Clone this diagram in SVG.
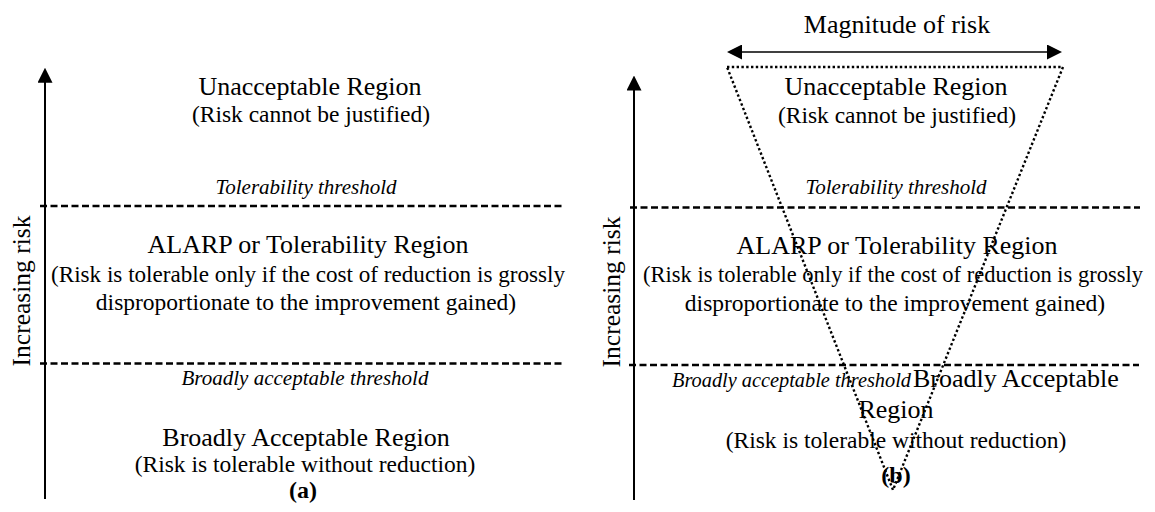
<svg xmlns="http://www.w3.org/2000/svg" width="1155" height="512" viewBox="0 0 1155 512">
<style>
text{font-family:"Liberation Serif","Times New Roman",serif;fill:#000}
.t{font-size:26px;text-anchor:middle}
.s{font-size:23.5px;text-anchor:middle}
.i{font-size:21px;font-style:italic;text-anchor:middle}
.lbl{font-size:24px;font-weight:bold;text-anchor:middle}
.ax{font-size:25.5px;text-anchor:middle}
.axis{stroke:#000;stroke-width:2;fill:none}
.mag{stroke:#000;stroke-width:1.6;fill:none}
.dash{stroke:#000;stroke-width:2.3;stroke-dasharray:7 3.5;fill:none}
.dot{stroke:#000;stroke-width:2.4;stroke-dasharray:2.4 2.4;fill:none}
</style>
<defs>
<marker id="ah" markerUnits="userSpaceOnUse" markerWidth="15" markerHeight="15" refX="10" refY="7.5" orient="auto-start-reverse"><path d="M0,0 L15,7.5 L0,15 z" fill="#000"/></marker>
</defs>
<rect width="1155" height="512" fill="#fff"/>
<g id="connectors">
<line class="axis" x1="45" y1="499" x2="45" y2="72.7" marker-end="url(#ah)"/>
<line class="axis" x1="634" y1="500" x2="634" y2="80.5" marker-end="url(#ah)"/>
<line class="dash" x1="40" y1="206" x2="563" y2="206"/>
<line class="dash" x1="40" y1="363.5" x2="562" y2="363.5"/>
<line class="dash" x1="630" y1="207.5" x2="1140" y2="207.5"/>
<line class="dash" x1="629" y1="365" x2="1139" y2="365"/>
<line class="mag" x1="732" y1="52" x2="1057" y2="52" marker-start="url(#ah)" marker-end="url(#ah)"/>
<polygon class="dot" points="727,67 1063,67 893,490"/>
</g>
<g id="panel-a">
<g id="a-unacceptable"><text class="t" x="310" y="95">Unacceptable Region</text><text class="s" x="311" y="122">(Risk cannot be justified)</text></g>
<g id="a-tolerability-threshold"><text class="i" x="306" y="194">Tolerability threshold</text></g>
<g id="a-alarp"><text class="t" x="308" y="253">ALARP or Tolerability Region</text><text class="s" x="308" y="282" textLength="514" lengthAdjust="spacingAndGlyphs">(Risk is tolerable only if the cost of reduction is grossly</text><text class="s" x="306" y="310">disproportionate to the improvement gained)</text></g>
<g id="a-broad-threshold"><text class="i" x="305" y="385">Broadly acceptable threshold</text></g>
<g id="a-broad"><text class="t" x="306" y="446">Broadly Acceptable Region</text><text class="s" x="305" y="472">(Risk is tolerable without reduction)</text></g>
<g id="a-label"><text class="lbl" x="303" y="498">(a)</text></g>
<g id="a-axis-label"><text class="ax" transform="translate(30,291) rotate(-90)">Increasing risk</text></g>
</g>
<g id="panel-b">
<g id="b-magnitude"><text class="t" x="897" y="33">Magnitude of risk</text></g>
<g id="b-unacceptable"><text class="t" x="896" y="95">Unacceptable Region</text><text class="s" x="897" y="123">(Risk cannot be justified)</text></g>
<g id="b-tolerability-threshold"><text class="i" x="896" y="194">Tolerability threshold</text></g>
<g id="b-alarp"><text class="t" x="897" y="254">ALARP or Tolerability Region</text><text class="s" x="893" y="282" style="font-size:22.5px" textLength="500" lengthAdjust="spacingAndGlyphs">(Risk is tolerable only if the cost of reduction is grossly</text><text class="s" x="895" y="311">disproportionate to the improvement gained)</text></g>
<g id="b-broad-threshold"><text class="i" x="672" y="387" style="text-anchor:start" textLength="239" lengthAdjust="spacingAndGlyphs">Broadly acceptable threshold</text></g>
<g id="b-broad"><text class="t" x="913" y="387" style="text-anchor:start">Broadly Acceptable</text><text class="t" x="896" y="418">Region</text><text class="s" x="896" y="448">(Risk is tolerable without reduction)</text></g>
<g id="b-label"><text class="lbl" x="896" y="483">(b)</text></g>
<g id="b-axis-label"><text class="ax" transform="translate(620,292) rotate(-90)">Increasing risk</text></g>
</g>
</svg>
